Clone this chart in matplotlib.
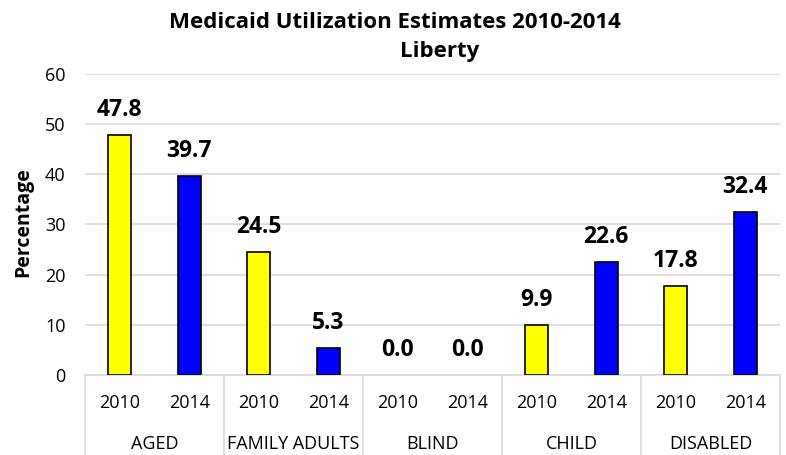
import matplotlib.pyplot as plt
from matplotlib.transforms import blended_transform_factory
import numpy as np

categories = ["AGED", "FAMILY ADULTS", "BLIND", "CHILD", "DISABLED"]
years = ["2010", "2014"]
values_2010 = [47.8, 24.5, 0.0, 9.9, 17.8]
values_2014 = [39.7, 5.3, 0.0, 22.6, 32.4]
colors = {"2010": "#ffff00", "2014": "#0000ff"}

plt.rcParams['font.family'] = ['Open Sans', 'DejaVu Sans']

fig = plt.figure(figsize=(7.86, 4.55), dpi=100)
ax = fig.add_axes([0.1081, 0.1758, 0.8842, 0.6616])

grid_c = "#d9d9d9"
trans = blended_transform_factory(ax.transData, ax.transAxes)
n = len(categories)
for i in range(n):
    for j, (yr, vals) in enumerate(zip(years, [values_2010, values_2014])):
        x = 2 * i + j
        v = vals[i]
        ax.bar(x, v, width=0.33, color=colors[yr], edgecolor="black",
               linewidth=1.2 if v > 0 else 0, zorder=3)
        ax.text(x, v + 3.8, f"{v:.1f}", ha="center", va="baseline",
                fontsize=16.5, fontweight="bold", zorder=4)
        ax.text(x, -0.1096, yr, transform=trans, ha="center", va="baseline",
                fontsize=13)

ax.set_xlim(-0.5, 2 * n - 0.5)
ax.set_ylim(0, 60)
ax.set_yticks(np.arange(0, 61, 10))
ax.yaxis.grid(True, color=grid_c, linewidth=1.2, zorder=0)
ax.set_axisbelow(True)
for s in ["left", "right", "top"]:
    ax.spines[s].set_visible(False)
ax.spines["bottom"].set_color(grid_c)
ax.spines["bottom"].set_linewidth(1.2)

ax.set_xticks([])
ax.tick_params(axis="y", length=0, labelsize=13, pad=14)

# category names under the year labels, with separators between groups
for i, cat in enumerate(categories):
    ax.text(2 * i + 0.5, -0.247, cat, transform=trans, ha="center", va="baseline",
            fontsize=13)
for k in range(n + 1):
    ax.plot([2 * k - 0.5, 2 * k - 0.5], [0, -0.27], transform=trans,
            color=grid_c, linewidth=1.2, clip_on=False)

fig.text(0.029, 0.512, "Percentage", rotation=90, ha="center", va="center",
         fontsize=14, fontweight="bold")
fig.text(395 / 786, 1 - 28 / 455, "Medicaid Utilization Estimates 2010-2014",
         ha="center", va="baseline", fontsize=16, fontweight="bold")
fig.text(440 / 786, 1 - 57 / 455, "Liberty",
         ha="center", va="baseline", fontsize=16, fontweight="bold")

fig.savefig("out.png", dpi=100)
